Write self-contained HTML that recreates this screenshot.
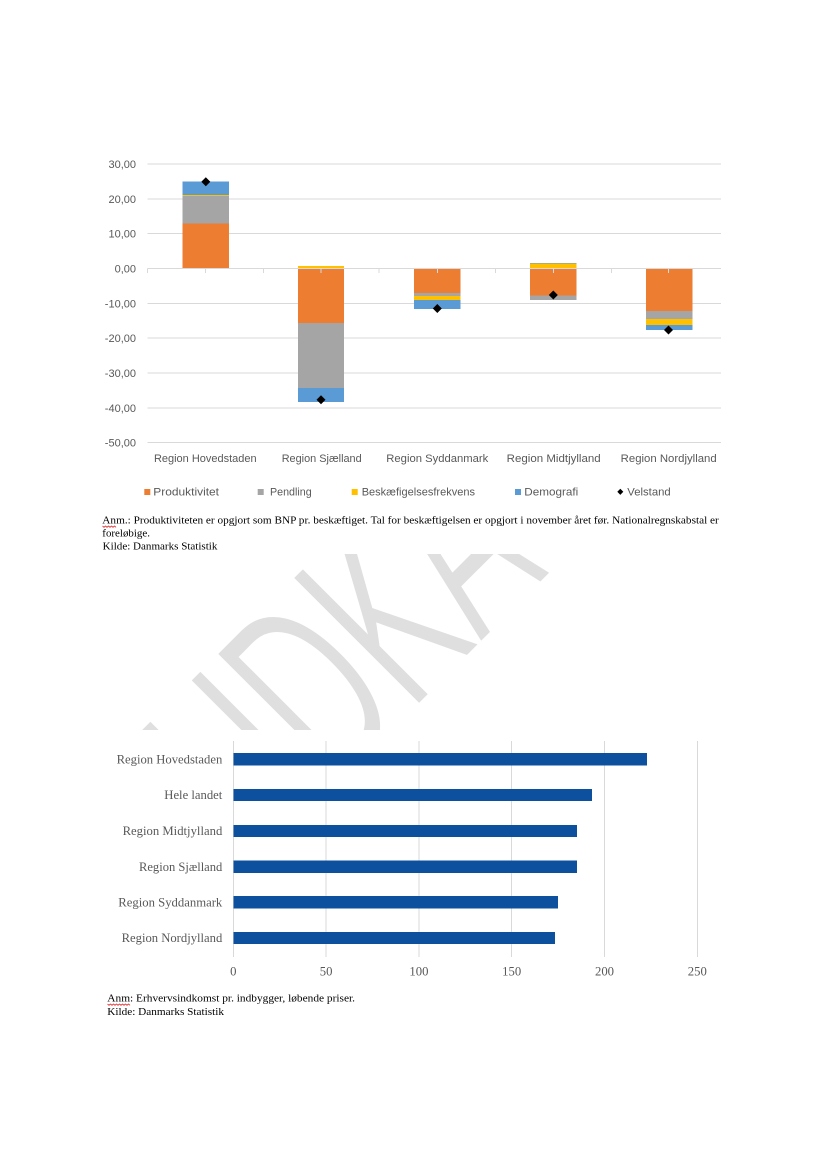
<!DOCTYPE html>
<html>
<head>
<meta charset="utf-8">
<style>
  html,body{margin:0;padding:0;background:#fff;}
  svg{display:block;}
</style>
</head>
<body>
<svg width="827" height="1169" viewBox="0 0 827 1169" xmlns="http://www.w3.org/2000/svg">
  <defs>
    <clipPath id="wm"><rect x="0" y="554" width="827" height="176"/></clipPath>
  </defs>
  <rect x="0" y="0" width="827" height="1169" fill="#fff"/>

  <!-- Watermark -->
  <g clip-path="url(#wm)">
    <text transform="translate(259,865) rotate(-45) scale(0.57,1)" font-family="'Liberation Sans', sans-serif" font-size="261" fill="#DFDFDF" stroke="#fff" stroke-width="3">UDKAST</text>
  </g>

  <!-- ===== TOP CHART ===== -->
  <g stroke="#D9D9D9" stroke-width="1" shape-rendering="crispEdges">
    <line x1="147.7" y1="164" x2="721" y2="164"/>
    <line x1="147.7" y1="198.8" x2="721" y2="198.8"/>
    <line x1="147.7" y1="233.7" x2="721" y2="233.7"/>
    <line x1="147.7" y1="303.3" x2="721" y2="303.3"/>
    <line x1="147.7" y1="338.2" x2="721" y2="338.2"/>
    <line x1="147.7" y1="373" x2="721" y2="373"/>
    <line x1="147.7" y1="407.9" x2="721" y2="407.9"/>
    <line x1="147.7" y1="442.7" x2="721" y2="442.7"/>
  </g>

  <!-- Y labels -->
  <g font-family="'Liberation Sans', sans-serif" font-size="11" fill="#595959" text-anchor="end">
    <text x="136" y="168">30,00</text>
    <text x="136" y="202.8">20,00</text>
    <text x="136" y="237.7">10,00</text>
    <text x="136" y="272.5">0,00</text>
    <text x="136" y="307.3">-10,00</text>
    <text x="136" y="342.2">-20,00</text>
    <text x="136" y="377">-30,00</text>
    <text x="136" y="411.9">-40,00</text>
    <text x="136" y="446.7">-50,00</text>
  </g>

  <!-- Bars -->
  <g shape-rendering="crispEdges">
    <!-- Hovedstaden -->
    <rect x="182.6" y="223.7" width="46.4" height="44.8" fill="#ED7D31"/>
    <rect x="182.6" y="195.7" width="46.4" height="28" fill="#A5A5A5"/>
    <rect x="182.6" y="194.9" width="46.4" height="0.9" fill="#FFC000"/>
    <rect x="182.6" y="181.5" width="46.4" height="13.5" fill="#5B9BD5"/>
    <!-- Sjælland -->
    <rect x="297.8" y="266.2" width="46.4" height="2.3" fill="#FFC000"/>
    <rect x="297.8" y="268.5" width="46.4" height="54.5" fill="#ED7D31"/>
    <rect x="297.8" y="323" width="46.4" height="65" fill="#A5A5A5"/>
    <rect x="297.8" y="388" width="46.4" height="14" fill="#5B9BD5"/>
    <!-- Syddanmark -->
    <rect x="414" y="268.5" width="46.4" height="24.5" fill="#ED7D31"/>
    <rect x="414" y="293" width="46.4" height="3" fill="#A5A5A5"/>
    <rect x="414" y="296" width="46.4" height="4" fill="#FFC000"/>
    <rect x="414" y="300" width="46.4" height="9" fill="#5B9BD5"/>
    <!-- Midtjylland -->
    <rect x="530" y="263" width="46.4" height="0.9" fill="#5B9BD5"/>
    <rect x="530" y="263.7" width="46.4" height="4.6" fill="#FFC000"/>
    <rect x="530" y="268.5" width="46.4" height="27.2" fill="#ED7D31"/>
    <rect x="530" y="295.7" width="46.4" height="4.3" fill="#A5A5A5"/>
    <!-- Nordjylland -->
    <rect x="646" y="268.5" width="46.6" height="42.5" fill="#ED7D31"/>
    <rect x="646" y="311" width="46.6" height="8" fill="#A5A5A5"/>
    <rect x="646" y="319" width="46.6" height="6" fill="#FFC000"/>
    <rect x="646" y="325" width="46.6" height="5" fill="#5B9BD5"/>
  </g>

  <!-- zero axis + ticks -->
  <g stroke="#D9D9D9" stroke-width="1" shape-rendering="crispEdges">
    <line x1="147.7" y1="268.5" x2="721" y2="268.5"/>
    <line x1="147.7" y1="268.5" x2="147.7" y2="273"/>
    <line x1="205.5" y1="268.5" x2="205.5" y2="273"/>
    <line x1="263.3" y1="268.5" x2="263.3" y2="273"/>
    <line x1="321.1" y1="268.5" x2="321.1" y2="273"/>
    <line x1="379" y1="268.5" x2="379" y2="273"/>
    <line x1="437.3" y1="268.5" x2="437.3" y2="273"/>
    <line x1="495.7" y1="268.5" x2="495.7" y2="273"/>
    <line x1="553.3" y1="268.5" x2="553.3" y2="273"/>
    <line x1="611.7" y1="268.5" x2="611.7" y2="273"/>
    <line x1="668.3" y1="268.5" x2="668.3" y2="273"/>
  </g>

  <!-- Diamonds (Velstand) -->
  <g fill="#000">
    <polygon points="205.8,177.2 210.3,181.7 205.8,186.2 201.3,181.7"/>
    <polygon points="321,395.2 325.5,399.7 321,404.2 316.5,399.7"/>
    <polygon points="437.3,304 441.8,308.5 437.3,313 432.8,308.5"/>
    <polygon points="553.3,290.5 557.8,295 553.3,299.5 548.8,295"/>
    <polygon points="668.5,325.5 673,330 668.5,334.5 664,330"/>
  </g>

  <!-- Category labels -->
  <g font-family="'Liberation Sans', sans-serif" font-size="11" fill="#595959" text-anchor="middle">
    <text x="205.3" y="462" textLength="102.7" lengthAdjust="spacingAndGlyphs">Region Hovedstaden</text>
    <text x="321.7" y="462" textLength="80" lengthAdjust="spacingAndGlyphs">Region Sjælland</text>
    <text x="437.3" y="462" textLength="102" lengthAdjust="spacingAndGlyphs">Region Syddanmark</text>
    <text x="553.7" y="462" textLength="94" lengthAdjust="spacingAndGlyphs">Region Midtjylland</text>
    <text x="668.7" y="462" textLength="96" lengthAdjust="spacingAndGlyphs">Region Nordjylland</text>
  </g>

  <!-- Legend -->
  <rect x="144.3" y="489" width="6" height="6" fill="#ED7D31"/>
  <rect x="257.7" y="489" width="6" height="6" fill="#A5A5A5"/>
  <rect x="351.7" y="489" width="6" height="6" fill="#FFC000"/>
  <rect x="515" y="489" width="6" height="6" fill="#5B9BD5"/>
  <polygon points="620.3,488.7 623.3,491.8 620.3,494.9 617.3,491.8" fill="#000"/>
  <g font-family="'Liberation Sans', sans-serif" font-size="11" fill="#595959">
    <text x="153.3" y="495.7" textLength="65.7" lengthAdjust="spacingAndGlyphs">Produktivitet</text>
    <text x="270" y="495.7" textLength="41.7" lengthAdjust="spacingAndGlyphs">Pendling</text>
    <text x="361.7" y="495.7" textLength="113.3" lengthAdjust="spacingAndGlyphs">Beskæfigelsesfrekvens</text>
    <text x="524.3" y="495.7" textLength="54" lengthAdjust="spacingAndGlyphs">Demografi</text>
    <text x="627.3" y="495.7" textLength="43.4" lengthAdjust="spacingAndGlyphs">Velstand</text>
  </g>

  <!-- Top notes -->
  <g font-family="'Liberation Serif', serif" font-size="11" fill="#000">
    <text x="102.3" y="523.3" textLength="616.5" lengthAdjust="spacingAndGlyphs">Anm.: Produktiviteten er opgjort som BNP pr. beskæftiget. Tal for beskæftigelsen er opgjort i november året før. Nationalregnskabstal er</text>
    <text x="102.3" y="536.7" textLength="47.7" lengthAdjust="spacingAndGlyphs">foreløbige.</text>
    <text x="102.7" y="549.3" textLength="114.7" lengthAdjust="spacingAndGlyphs">Kilde: Danmarks Statistik</text>
  </g>
  <polyline points="102.5,526 104,527.3 105.5,526 107,527.3 108.5,526 110,527.3 111.5,526 113,527.3 114.5,526 116,527.3" fill="none" stroke="#E02020" stroke-width="0.8"/>

  <!-- ===== BOTTOM CHART ===== -->
  <g stroke="#D9D9D9" stroke-width="1" shape-rendering="crispEdges">
    <line x1="233.3" y1="741" x2="233.3" y2="957"/>
    <line x1="326.1" y1="741" x2="326.1" y2="957"/>
    <line x1="418.9" y1="741" x2="418.9" y2="957"/>
    <line x1="511.7" y1="741" x2="511.7" y2="957"/>
    <line x1="604.5" y1="741" x2="604.5" y2="957"/>
    <line x1="697.3" y1="741" x2="697.3" y2="957"/>
  </g>
  <g fill="#0D509E" shape-rendering="crispEdges">
    <rect x="233.3" y="753" width="413.7" height="12.4"/>
    <rect x="233.3" y="788.8" width="358.7" height="12.4"/>
    <rect x="233.3" y="824.8" width="343.7" height="12.4"/>
    <rect x="233.3" y="860.6" width="343.7" height="12.4"/>
    <rect x="233.3" y="896.1" width="324.7" height="12.4"/>
    <rect x="233.3" y="931.8" width="321.7" height="12.4"/>
  </g>
  <g font-family="'Liberation Serif', serif" font-size="12.7" fill="#595959" text-anchor="end">
    <text x="222.3" y="763.4" textLength="105.7" lengthAdjust="spacingAndGlyphs">Region Hovedstaden</text>
    <text x="222.3" y="799.2" textLength="58" lengthAdjust="spacingAndGlyphs">Hele landet</text>
    <text x="222.3" y="835.2" textLength="99.7" lengthAdjust="spacingAndGlyphs">Region Midtjylland</text>
    <text x="222.3" y="871" textLength="83.3" lengthAdjust="spacingAndGlyphs">Region Sjælland</text>
    <text x="222.3" y="906.5" textLength="104" lengthAdjust="spacingAndGlyphs">Region Syddanmark</text>
    <text x="222.3" y="942.2" textLength="100.7" lengthAdjust="spacingAndGlyphs">Region Nordjylland</text>
  </g>
  <g font-family="'Liberation Serif', serif" font-size="12.7" fill="#595959" text-anchor="middle">
    <text x="233.3" y="975.5">0</text>
    <text x="326.1" y="975.5">50</text>
    <text x="418.9" y="975.5">100</text>
    <text x="511.7" y="975.5">150</text>
    <text x="604.5" y="975.5">200</text>
    <text x="697.3" y="975.5">250</text>
  </g>

  <!-- Bottom notes -->
  <g font-family="'Liberation Serif', serif" font-size="11" fill="#000">
    <text x="107.3" y="1001.7" textLength="247.7" lengthAdjust="spacingAndGlyphs">Anm: Erhvervsindkomst pr. indbygger, løbende priser.</text>
    <text x="107.3" y="1015" textLength="116.7" lengthAdjust="spacingAndGlyphs">Kilde: Danmarks Statistik</text>
  </g>
  <polyline points="107.5,1004 109,1005.3 110.5,1004 112,1005.3 113.5,1004 115,1005.3 116.5,1004 118,1005.3 119.5,1004 121,1005.3 122.5,1004 124,1005.3 125.5,1004 127,1005.3 128.5,1004 130,1005.3" fill="none" stroke="#E02020" stroke-width="0.8"/>
</svg>
</body>
</html>
